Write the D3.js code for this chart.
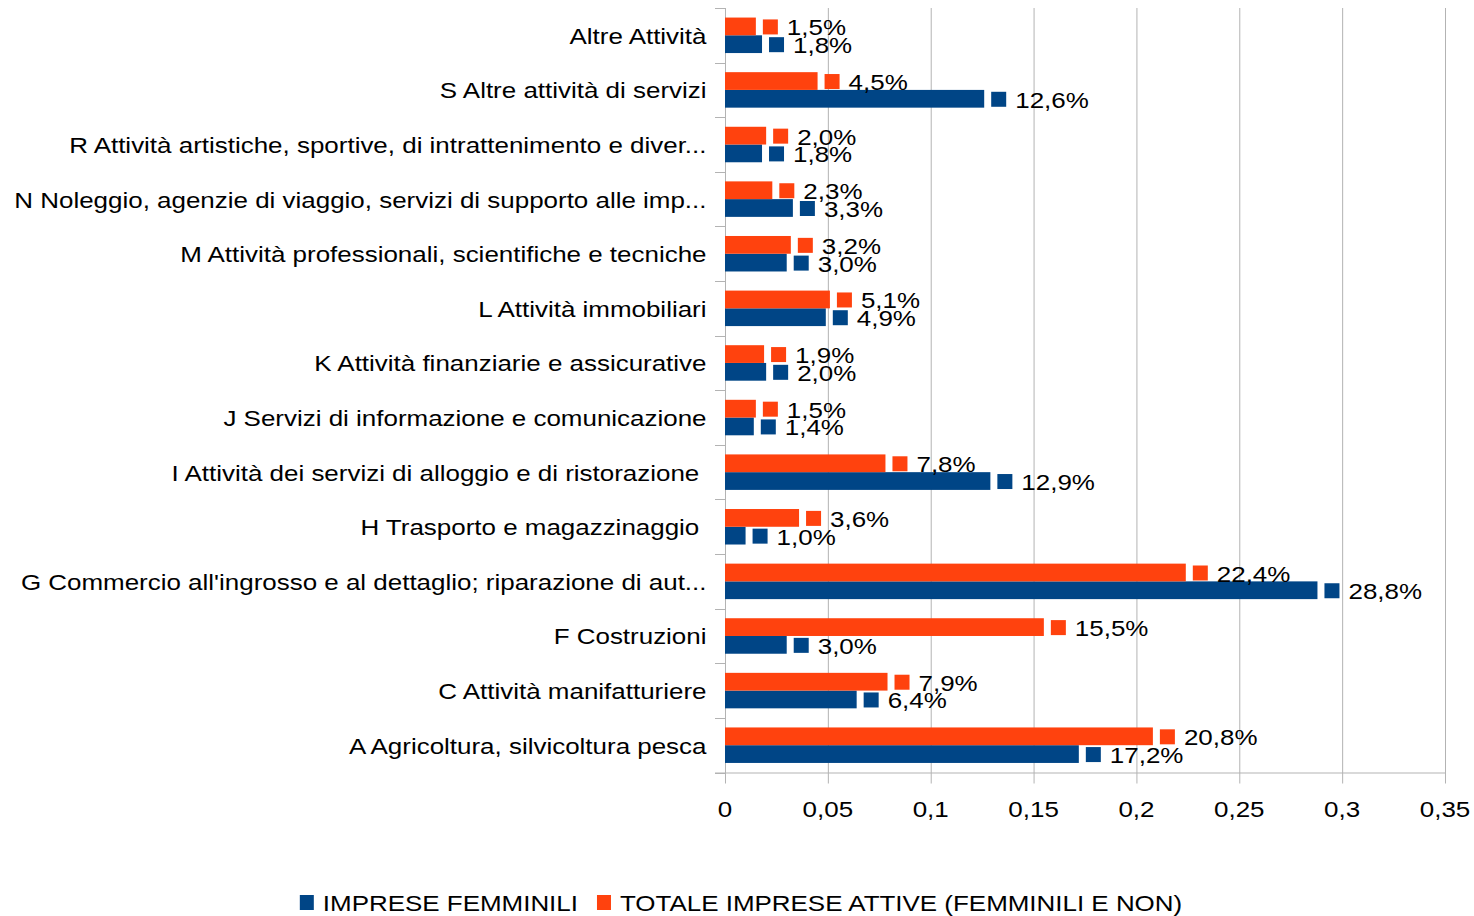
<!DOCTYPE html>
<html>
<head>
<meta charset="utf-8">
<script src="https://cdn.jsdelivr.net/npm/d3@7"></script>
<style>
  body { margin: 0; background: #fff; }
  text { font-family: "Liberation Sans", Arial, sans-serif; white-space: pre; }
</style>
</head>
<body>
<div id="wrapper"></div>
<script>
// categories, top to bottom
const categories = [
  "Altre Attività",
  "S Altre attività di servizi",
  "R Attività artistiche, sportive, di intrattenimento e diver...",
  "N Noleggio, agenzie di viaggio, servizi di supporto alle imp...",
  "M Attività professionali, scientifiche e tecniche",
  "L Attività immobiliari",
  "K Attività finanziarie e assicurative",
  "J Servizi di informazione e comunicazione",
  "I Attività dei servizi di alloggio e di ristorazione ",
  "H Trasporto e magazzinaggio ",
  "G Commercio all'ingrosso e al dettaglio; riparazione di aut...",
  "F Costruzioni",
  "C Attività manifatturiere",
  "A Agricoltura, silvicoltura pesca"
]

// series values (share of total)
const impreseFemminili = [0.018, 0.126, 0.018, 0.033, 0.030, 0.049, 0.020, 0.014, 0.129, 0.010, 0.288, 0.030, 0.064, 0.172]
const totaleImprese    = [0.015, 0.045, 0.020, 0.023, 0.032, 0.051, 0.019, 0.015, 0.078, 0.036, 0.224, 0.155, 0.079, 0.208]

const xTicks = [0, 0.05, 0.1, 0.15, 0.2, 0.25, 0.3, 0.35]

const seriesNames = ["IMPRESE FEMMINILI", "TOTALE IMPRESE ATTIVE (FEMMINILI E NON)"]
const colors = ["#004586", "#ff420e"]

const dimensions = {
  width: 1474,
  height: 916,
  margin: { top: 8, right: 29, bottom: 143.5, left: 725 }
}
dimensions.boundedWidth = dimensions.width - dimensions.margin.left - dimensions.margin.right
dimensions.boundedHeight = dimensions.height - dimensions.margin.top - dimensions.margin.bottom

// text in the reference is stretched horizontally
const stretch = 1.18
const fontSize = 22

const itaFormat = v => d3.format(".1f")(v * 100).replace(".", ",") + "%"
const tickFormat = v => String(+v.toFixed(2)).replace(".", ",")

const svg = d3.select("#wrapper")
  .append("svg")
    .attr("width", dimensions.width)
    .attr("height", dimensions.height)

const bounds = svg.append("g")
  .attr("transform", `translate(${dimensions.margin.left},${dimensions.margin.top})`)

const xScale = d3.scaleLinear()
  .domain([0, 0.35])
  .range([0, dimensions.boundedWidth])

const yScale = d3.scaleBand()
  .domain(categories)
  .range([0, dimensions.boundedHeight])
  .paddingInner(0.35)
  .paddingOuter(0.175)

const grid = "#b3b3b3"

// vertical gridlines + tick marks below
bounds.append("g")
  .selectAll("line")
  .data(xTicks)
  .join("line")
    .attr("x1", d => xScale(d) + 0.5)
    .attr("x2", d => xScale(d) + 0.5)
    .attr("y1", 0)
    .attr("y2", dimensions.boundedHeight + 11)
    .attr("stroke", grid)
    .attr("stroke-width", 1)

// bottom axis line
bounds.append("line")
  .attr("x1", -10)
  .attr("x2", dimensions.boundedWidth + 1)
  .attr("y1", dimensions.boundedHeight + 0.5)
  .attr("y2", dimensions.boundedHeight + 0.5)
  .attr("stroke", grid)

// category tick marks on the left
const step = dimensions.boundedHeight / categories.length
bounds.append("g")
  .selectAll("line")
  .data(d3.range(categories.length + 1))
  .join("line")
    .attr("x1", -10)
    .attr("x2", 0)
    .attr("y1", i => Math.round(i * step) + 0.5)
    .attr("y2", i => Math.round(i * step) + 0.5)
    .attr("stroke", grid)

// x tick labels
bounds.append("g")
  .selectAll("text")
  .data(xTicks)
  .join("text")
    .attr("transform", d => `translate(${xScale(d)},${dimensions.boundedHeight + 44.5}) scale(${stretch},1)`)
    .attr("text-anchor", "middle")
    .style("font-size", fontSize + "px")
    .attr("fill", "#000")
    .text(tickFormat)

// category labels
bounds.append("g")
  .selectAll("text")
  .data(categories)
  .join("text")
    .attr("transform", d => `translate(${-18.5},${yScale(d) + yScale.bandwidth() / 2 + 8.5}) scale(${stretch},1)`)
    .attr("text-anchor", "end")
    .style("font-size", fontSize + "px")
    .attr("fill", "#000")
    .text(d => d)

// bars: orange (totale) on top, blue (femminili) below
const barH = yScale.bandwidth() / 2
const rows = categories.map((c, i) => ({ c, vals: [impreseFemminili[i], totaleImprese[i]] }))

const rowGroups = bounds.append("g")
  .selectAll("g")
  .data(rows)
  .join("g")
    .attr("transform", d => `translate(0,${yScale(d.c)})`)

// series index 1 -> top half, series 0 -> bottom half
const slot = s => s === 1 ? 0 : barH

rowGroups.selectAll("rect.bar")
  .data(d => d.vals.map((v, s) => ({ v, s })))
  .join("rect")
    .attr("class", "bar")
    .attr("x", 0)
    .attr("y", d => slot(d.s))
    .attr("width", d => xScale(d.v))
    .attr("height", barH)
    .attr("fill", d => colors[d.s])

// data labels with key square
const labels = rowGroups.selectAll("g.lab")
  .data(d => d.vals.map((v, s) => ({ v, s })))
  .join("g")
    .attr("class", "lab")

labels.append("rect")
  .attr("x", d => xScale(d.v) + 7)
  .attr("y", d => slot(d.s) + barH / 2 - 7)
  .attr("width", 15)
  .attr("height", 15)
  .attr("fill", d => colors[d.s])

labels.append("text")
  .attr("transform", d => `translate(${xScale(d.v) + 31},${slot(d.s) + barH / 2 + 9}) scale(${stretch},1)`)
  .style("font-size", fontSize + "px")
  .attr("fill", "#000")
  .text(d => itaFormat(d.v))

// legend
const legend = svg.append("g")
let lx = 0
seriesNames.forEach((name, i) => {
  const g = legend.append("g").attr("transform", `translate(${lx},0)`)
  g.append("rect")
    .attr("x", 0).attr("y", -16)
    .attr("width", 14).attr("height", 15)
    .attr("fill", colors[i])
  const t = g.append("text")
    .attr("transform", `translate(23,0) scale(${stretch},1)`)
    .style("font-size", fontSize + "px")
    .attr("fill", "#000")
    .text(name)
  lx += 23 + t.node().getComputedTextLength() * stretch + 19
})
const legendWidth = lx - 19
legend.attr("transform", `translate(${741 - legendWidth / 2},911)`)
</script>
</body>
</html>
